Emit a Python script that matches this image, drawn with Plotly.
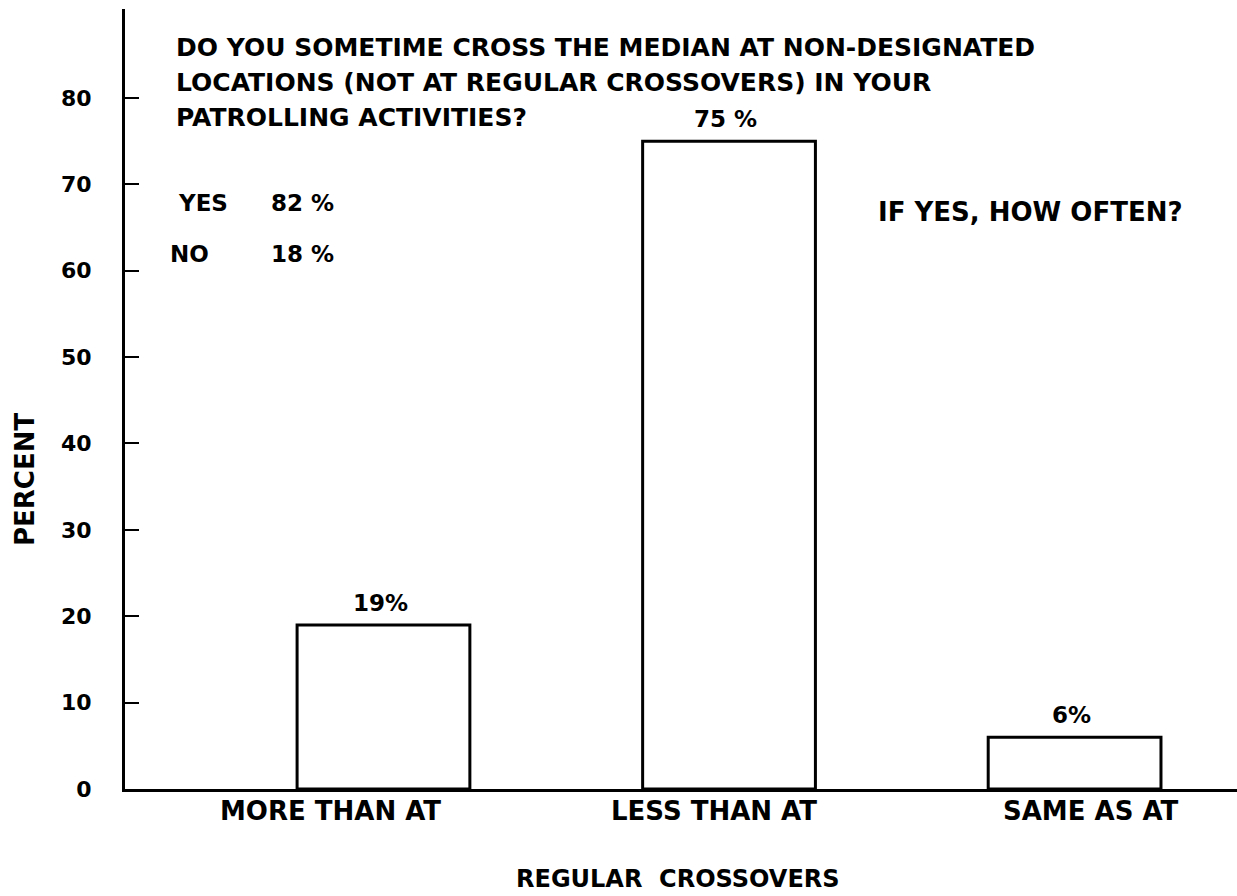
import plotly.graph_objects as go

# ---- data ----
categories = ["MORE THAN AT", "LESS THAN AT", "SAME AS AT"]
values = [19, 75, 6]
value_labels = ["19%", "75 %", "6%"]
y_ticks = [0, 10, 20, 30, 40, 50, 60, 70, 80]
y_tick_labels = ["0", "10", "20", "30", "40", "50", "60", "70", "80"]
question_lines = [
    "DO YOU SOMETIME CROSS THE MEDIAN AT NON-DESIGNATED",
    "LOCATIONS (NOT AT REGULAR CROSSOVERS) IN YOUR",
    "PATROLLING ACTIVITIES?",
]
answer_labels = ["YES", "NO"]
answer_values = ["82 %", "18 %"]
sub_question = "IF YES, HOW OFTEN?"
x_title = "REGULAR  CROSSOVERS"
y_title = "PERCENT"

# ---- layout geometry (pixels) ----
W, H = 1237, 896
L, T, R, B = 125, 9, 0, 107
PW, PH = W - L - R, H - T - B
FONT = "DejaVu Sans"


def xp(px):
    return (px - L) / PW


def yp(py):
    return (H - B - py) / PH


xpos = list(range(len(categories)))

fig = go.Figure()
fig.add_trace(go.Bar(
    x=xpos, y=values, width=0.5,
    marker=dict(color="white", line=dict(color="black", width=3)),
    showlegend=False, hoverinfo="skip",
))

ann = []
# value labels above bars
for xi, v, lab in zip(xpos, values, value_labels):
    ann.append(dict(x=xi - 0.01, y=v, xref="x", yref="y", text=lab, showarrow=False,
                    yanchor="bottom", yshift=7, font=dict(size=23)))

# category labels
cat_offsets = [-0.152, -0.043, 0.048]
for xi, c, off in zip(xpos, categories, cat_offsets):
    ann.append(dict(x=xi + off, y=yp(811), xref="x", yref="paper", text=c, showarrow=False,
                    yanchor="middle", font=dict(size=26)))

# question text
for i, line in enumerate(question_lines):
    ann.append(dict(x=xp(174), y=yp(47 + i * 35.5), xref="paper", yref="paper", text=line,
                    showarrow=False, xanchor="left", yanchor="middle", font=dict(size=25)))

# yes / no
ans_y = [203, 254]
ans_x = [176, 168]
for lab, val, y, x0 in zip(answer_labels, answer_values, ans_y, ans_x):
    ann.append(dict(x=xp(x0), y=yp(y), xref="paper", yref="paper", text=lab, showarrow=False,
                    xanchor="left", yanchor="middle", font=dict(size=23)))
    ann.append(dict(x=xp(269), y=yp(y), xref="paper", yref="paper", text=val, showarrow=False,
                    xanchor="left", yanchor="middle", font=dict(size=23)))

ann.append(dict(x=xp(876), y=yp(212), xref="paper", yref="paper", text=sub_question,
                showarrow=False, xanchor="left", yanchor="middle", font=dict(size=26)))

ann.append(dict(x=xp(678), y=yp(879), xref="paper", yref="paper", text=x_title,
                showarrow=False, yanchor="middle", font=dict(size=24)))
ann.append(dict(x=xp(8), y=yp(480), xref="paper", yref="paper", text=y_title,
                showarrow=False, textangle=-90, font=dict(size=26)))

fig.update_layout(
    width=W, height=H,
    margin=dict(l=L, r=R, t=T, b=B, autoexpand=False),
    paper_bgcolor="white", plot_bgcolor="white",
    font=dict(family=FONT, color="black", size=22, weight="bold"),
    annotations=ann,
    xaxis=dict(range=[-0.748, 2.47], showticklabels=False, ticks="", showgrid=False,
               zeroline=False, showline=True, linecolor="black", linewidth=3),
    yaxis=dict(range=[0, 90.3], tickvals=y_ticks, ticktext=y_tick_labels,
               ticks="inside", ticklen=14, tickwidth=2, tickcolor="black",
               showgrid=False, zeroline=False, showline=True, linecolor="black", linewidth=3,
               ticklabelstandoff=26, tickfont=dict(size=22)),
)

fig.write_html("out.html", config={"displayModeBar": False},
               post_script="document.body.style.margin='0';document.body.style.overflow='hidden';")
